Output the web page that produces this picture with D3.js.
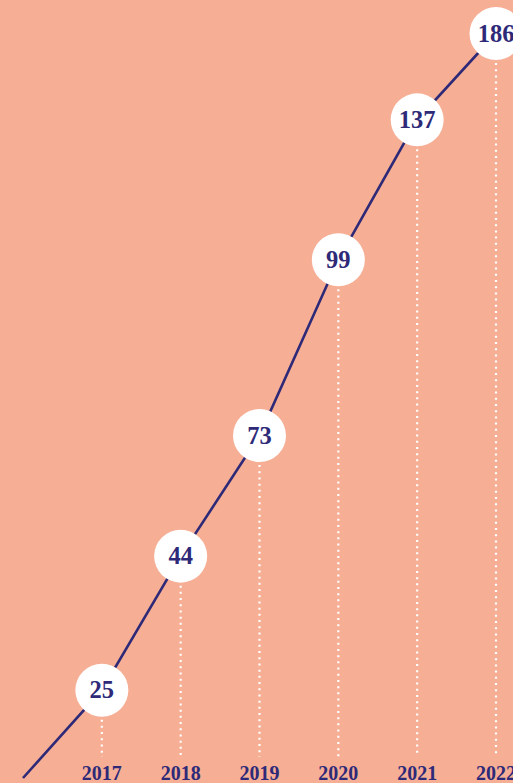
<!DOCTYPE html>
<html><head><meta charset="utf-8">
<script src="https://cdn.jsdelivr.net/npm/d3@7"></script>
<style>html,body{margin:0;padding:0;background:#f6ae95;overflow:hidden}</style>
</head><body>
<svg id="c" width="513" height="783"></svg>
<script>
// Data
const years = [2017, 2018, 2019, 2020, 2021, 2022];
const values = [25, 44, 73, 99, 137, 186];
// vertical level of each point along the rising line (0-100 index)
const lineYears = [2016, 2017, 2018, 2019, 2020, 2021, 2022];
const lineLevels = [0, 11.8, 29.8, 46, 69.6, 88.4, 100];

const W = 513, H = 783;
const svg = d3.select("#c");
svg.append("rect").attr("width", W).attr("height", H).attr("fill", "#f6ae95");

const x = d3.scaleLinear().domain([2016, 2022]).range([23, 496]);
const y = d3.scaleLinear().domain([0, 100]).range([778, 33.5]);
const levelOf = yr => lineLevels[lineYears.indexOf(yr)];
const R = 26.5;
const navy = "#2e2a78";

// dotted drop lines
svg.selectAll("line.drop").data(years).join("line")
  .attr("class", "drop")
  .attr("x1", d => x(d)).attr("x2", d => x(d))
  .attr("y1", d => y(levelOf(d)) + R + 3)
  .attr("y2", 757)
  .attr("stroke", "#ffffff").attr("stroke-width", 2.2)
  .attr("stroke-dasharray", "2,4.2");

// line
const pts = lineYears.map((yr, i) => [x(yr), y(lineLevels[i])]);
svg.append("path").datum(pts)
  .attr("d", d3.line())
  .attr("fill", "none").attr("stroke", navy).attr("stroke-width", 2.6);

// circles
const g = svg.selectAll("g.pt").data(years.map((yr, i) => ({yr, v: values[i]}))).join("g")
  .attr("class", "pt")
  .attr("transform", d => `translate(${x(d.yr)},${y(levelOf(d.yr))})`);
g.append("circle").attr("r", R).attr("fill", "#ffffff");
g.append("text").text(d => d.v)
  .attr("text-anchor", "middle").attr("dy", "0.34em")
  .attr("font-family", "'Liberation Serif', serif").attr("font-weight", "bold")
  .attr("font-size", 24.5).attr("fill", navy);

// year labels
svg.selectAll("text.yr").data(years).join("text")
  .attr("class", "yr")
  .attr("x", d => x(d)).attr("y", 780)
  .attr("text-anchor", "middle")
  .attr("font-family", "'Liberation Serif', serif").attr("font-weight", "bold")
  .attr("font-size", 20).attr("fill", navy)
  .text(d => d);
</script>
</body></html>
